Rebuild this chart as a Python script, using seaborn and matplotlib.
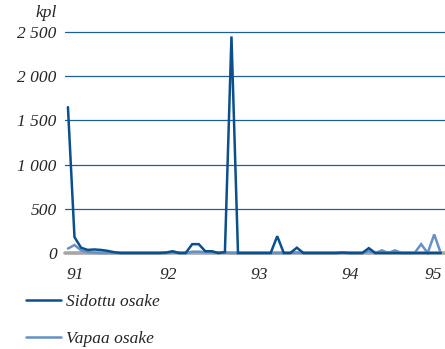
import numpy as np
import pandas as pd
import seaborn as sns
import matplotlib.pyplot as plt

## Data (kpl) ##
sidottu = [1650, 180, 60, 35, 40, 35, 25, 10, 0, 0,
           0, 0, 0, 0, 0, 5, 20, 0, 0, 100,
           100, 20, 20, 0, 10, 2450, 0, 0, 0, 0,
           0, 0, 190, 0, 0, 60, 0, 0, 0, 0,
           0, 0, 5, 0, 0, 0, 55, 0, 0, 0,
           0, 0, 0, 0, 0, 0, 0, 0]
vapaa = [50, 90, 30, 10, 5, 0, 0, 0, 0, 0,
         0, 0, 0, 0, 0, 0, 5, 0, 0, 15,
         15, 10, 10, 0, 5, 0, 0, 0, 0, 0,
         0, 0, 0, 0, 0, 5, 0, 0, 0, 0,
         0, 0, 0, 0, 0, 0, 20, 0, 30, 0,
         30, 0, 0, 0, 100, 0, 210, 0]
year_labels = ["91", "92", "93", "94", "95"]
year_pos = [1.1, 15.3, 29.2, 43.1, 55.8]
y_ticks = [0, 500, 1000, 1500, 2000, 2500]
y_labels = ["0", "500", "1 000", "1 500", "2 000", "2 500"]

dark = "#0b4f8c"
light = "#6790c4"

df = pd.DataFrame({
    "t": list(range(len(vapaa))) + list(range(len(sidottu))),
    "kpl": vapaa + sidottu,
    "sarja": ["Vapaa osake"] * len(vapaa) + ["Sidottu osake"] * len(sidottu),
})

sns.set_style("white")
plt.rcParams["font.family"] = ["Liberation Serif", "DejaVu Serif"]
plt.rcParams["font.style"] = "italic"

fig = plt.figure(figsize=(4.45, 3.49), dpi=100)
ax = fig.add_axes([65 / 445, 96 / 349, 380 / 445, 221 / 349])

for y in y_ticks[1:]:
    ax.axhline(y, color="#1f5f99", lw=0.9, zorder=1)
ax.axhline(0, color="#a6a6a6", lw=2.6, zorder=1, clip_on=False)

sns.lineplot(data=df, x="t", y="kpl", hue="sarja",
             hue_order=["Vapaa osake", "Sidottu osake"],
             palette=[light, dark], linewidth=1.8, ax=ax, zorder=3)
for ln in ax.lines:
    ln.set_clip_on(False)
    ln.set_solid_joinstyle("miter")

handles, labels = ax.get_legend_handles_labels()
ax.get_legend().remove()

ax.set_xlim(-0.45, 57.65)
ax.set_ylim(0, 2500)
ax.set_yticks(y_ticks)
ax.set_yticklabels(y_labels)
ax.set_xticks(year_pos)
ax.set_xticklabels(year_labels)
ax.tick_params(axis="y", length=0, pad=6, labelsize=12.5)
ax.tick_params(axis="x", length=0, pad=10, labelsize=12.5)
ax.set_xlabel("")
ax.set_ylabel("")
ax.grid(False)
for s in ax.spines.values():
    s.set_visible(False)

fig.text(57 / 445, 1 - 13 / 349, "kpl", ha="right", va="center", fontsize=12.5)

fig.legend([handles[1], handles[0]], [labels[1], labels[0]],
           loc="upper left", bbox_to_anchor=(26 / 445, 1 - 294 / 349),
           frameon=False, fontsize=12.5, handlelength=2.0,
           handletextpad=0.3, labelspacing=1.18, borderpad=0, borderaxespad=0)

fig.savefig("out.png", dpi=100)
